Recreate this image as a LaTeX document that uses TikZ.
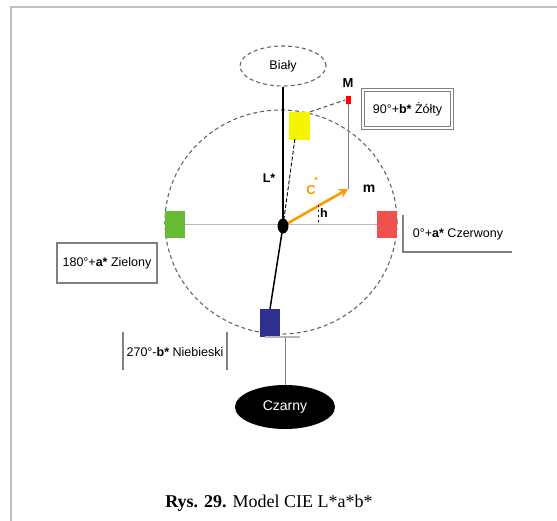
\documentclass[tikz,border=0pt]{standalone}
\usepackage{fontspec}
\setmainfont{Liberation Sans}
\newfontfamily\capfont{Liberation Serif}
\usetikzlibrary{shapes.geometric,arrows.meta}
\definecolor{framegray}{RGB}{192,192,192}
\definecolor{axisgray}{RGB}{185,185,185}
\definecolor{labgreen}{RGB}{102,187,51}
\definecolor{labred}{RGB}{240,80,80}
\definecolor{labyellow}{RGB}{245,245,0}
\definecolor{labblue}{RGB}{46,49,146}
\definecolor{chroma}{RGB}{255,153,0}
\tikzset{
  lbl/.style={font=\fontsize{12.5}{14}\selectfont, inner sep=1pt},
  swatch/.style={minimum width=20, minimum height=27, inner sep=0pt},
  tag/.style={font=\fontsize{12.5}{14}\selectfont, inner sep=0pt},
  letter/.style={font=\bfseries\fontsize{12.5}{14}\selectfont, inner sep=0pt},
  grayline/.style={draw=axisgray, line width=1.6},
}
\begin{document}
\begin{tikzpicture}[x=1pt,y=-1pt]
\useasboundingbox (0,0) rectangle (557,521);
\fill[white] (0,0) rectangle (557,521);
% page frame
\draw[framegray, line width=2] (11,521) -- (11,7) -- (557,7);

% colour sphere
\node[draw=gray!80!black, dashed, dash pattern=on 4pt off 3pt, line width=1.1, ellipse,
      minimum width=232, minimum height=224, inner sep=0] (sphere) at (281,222) {};

% poles
\node[draw=gray!80!black, dashed, dash pattern=on 4pt off 3pt, line width=1.1, ellipse,
      minimum width=86, minimum height=40, lbl] (white) at (283,66) {Biały};
\node[fill=black, ellipse, minimum width=100, minimum height=44, lbl,
      font=\fontsize{14}{16}\selectfont, text=white]
      (black) at (285,407) {Czarny};

\coordinate (O) at (283,226);

% colour swatches
\node[swatch, fill=labyellow, minimum width=21, minimum height=28] (yellow) at (299.5,126) {};
\node[swatch, fill=labgreen] (green) at (175,224.5) {};
\node[swatch, fill=labred] (red) at (387,224.5) {};
\node[swatch, fill=labblue, minimum height=28] (blue) at (270,323) {};

% a* axis
\draw[grayline] (green.east) -- (red.west);

% L* axis
\draw[black, line width=2] (white.south) -- (O);
\coordinate (bl) at (265,337);
\coordinate (br) at (300,337);
\coordinate (bm) at (285,337);
\draw[axisgray, line width=1.2] (bl) -- (br);
\draw[gray, line width=1] (bm) -- (black.north);

% b* axis
\coordinate (btop) at (295,138);
\draw[black, line width=1.5] (blue.north) -- (O);
\draw[black, line width=0.9, dash pattern=on 4pt off 2pt] (O) -- (btop);

% point M and its projection
\node[fill=red, minimum width=5, minimum height=8, inner sep=0] (Mdot) at (348,100) {};
\node[letter, font=\bfseries\fontsize{13}{14}\selectfont] (Mlab) at (348,83) {M};
\coordinate (m) at (348,189);
\draw[gray, line width=0.8] (Mdot.south) -- (m);
\draw[gray!70!black, line width=1.1, dash pattern=on 4pt off 3pt] (yellow.north east) -- (Mdot.west);

% chroma vector
\draw[chroma, line width=2.6, -{Stealth[length=9, width=10]}] (O) -- (m);
\fill[black] (O) ellipse (5.5 and 7.5);

% hue marker
\coordinate (h1) at (318,205);
\coordinate (h2) at (318,222);
\draw[black, line width=0.8, dash pattern=on 2pt off 3pt] (h1) -- (h2);

% axis letters
\node[letter] (Llab) at (269,178) {L*};
\node[letter, font=\bfseries\fontsize{14}{14}\selectfont] (mlab) at (369,189) {m};
\node[letter] (hlab) at (324,213) {h};
\node[letter, font=\bfseries\fontsize{13}{14}\selectfont, text=chroma] (Clab) at (311,190) {C};
\node[font=\bfseries\fontsize{9}{10}\selectfont, text=chroma, inner sep=0] (Cstar) at (316,180) {*};

% hue angle labels
\node[draw=gray, line width=1.2, minimum width=89, minimum height=38, tag,
      double=white, double distance=1.2] (ylab) at (407.5,109) {90°+\textbf{b*} Żółty};
\node[tag] (rlab) at (458,234) {0°+\textbf{a*} Czerwony};
\coordinate (r1) at (403,215);
\coordinate (r2) at (403,252);
\coordinate (r3) at (512,252);
\draw[gray, line width=1.6] (r1) -- (r2) -- (r3);

\node[draw=gray, line width=1.2, minimum width=100, minimum height=40, tag] (glab) at (107,263) {180°+\textbf{a*} Zielony};

\node[tag] (nlab) at (175,352) {270°-\textbf{b*} Niebieski};
\coordinate (n1) at (123,332);
\coordinate (n2) at (123,370);
\coordinate (n3) at (227,332);
\coordinate (n4) at (227,370);
\draw[gray, line width=1.2] (n1) -- (n2);
\draw[gray, line width=1.2] (n3) -- (n4);

% caption
\node[font=\capfont\fontsize{18}{20}\selectfont, inner sep=0] (caption) at (269,503)
  {\textbf{Rys. 29.} Model CIE L*a*b*};
\end{tikzpicture}
\end{document}
